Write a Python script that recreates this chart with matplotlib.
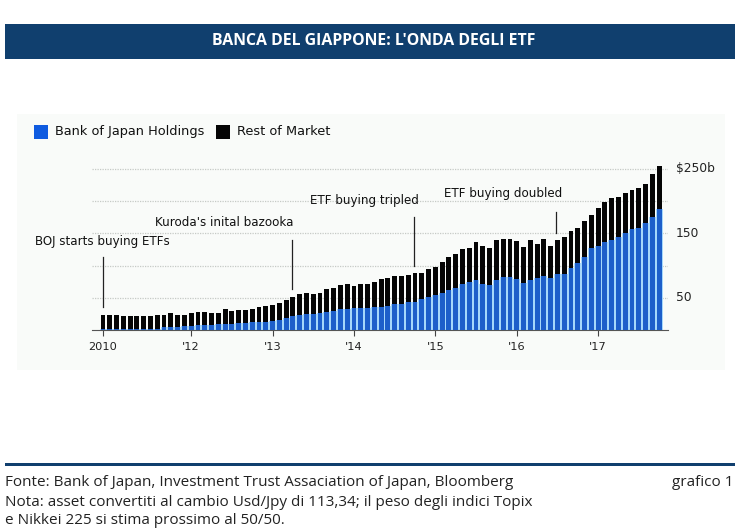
import matplotlib
matplotlib.use("Agg")
import matplotlib.pyplot as plt
from matplotlib.patches import Rectangle

W, H = 750, 529

total = [23,23,24,22,22,22,22,22,23,23,26,24,24,26,28,28,27,27,33,30,31,31,33,35,38,39,42,46,
         52,56,58,56,58,64,65,70,71,69,71,71,74,79,81,84,84,86,88,89,94,98,106,114,118,126,127,136,
         130,127,139,141,142,138,129,139,134,141,131,139,144,153,159,170,179,189,198,205,207,213,218,220,227,242,254]
boj = [1,1,1,1,1,1,1,1,1,4,5,5,6,6,8,8,8,9,10,10,11,11,12,12,13,14,16,19,
       22,23,25,25,26,28,30,32,33,34,34,34,35,36,38,40,40,43,44,48,51,54,58,62,66,71,75,77,
       72,70,78,82,83,79,73,78,80,84,81,87,87,96,104,114,128,130,136,140,144,150,157,159,166,175,188]
rest = [t - b for t, b in zip(total, boj)]
positions = list(range(len(total)))

tick_idx = [0, 13, 25, 37, 49, 61, 73]
tick_labels = ["2010", "'12", "'13", "'14", "'15", "'16", "'17"]
y_grid = [0, 50, 100, 150, 200, 250]
y_labels = {50: "50", 150: "150", 250: "$250b"}

events = [
    ("BOJ starts buying ETFs", 0.0, 36, 113, 35, 241),
    ("Kuroda's inital bazooka", 27.9, 64, 140, 155, 223),
    ("ETF buying tripled", 45.9, 99, 175, 310, 200),
    ("ETF buying doubled", 66.8, 151, 183, 444, 194),
]
series_names = ["Bank of Japan Holdings", "Rest of Market"]

NAVY = "#103f6e"
BLUE = "#1d5fca"
plt.rcParams["text.parse_math"] = False
fig = plt.figure(figsize=(W / 100, H / 100), dpi=100, facecolor="white")


def fx(x):
    return x / W


def fy(y):
    return 1 - y / H


def frect(x0, y0, x1, y1, z=1, **kw):
    fig.add_artist(Rectangle((fx(x0), fy(y1)), (x1 - x0) / W, (y1 - y0) / H,
                             transform=fig.transFigure, zorder=z, **kw))


frect(5, 24, 735, 59, facecolor=NAVY, edgecolor="none")
frect(17, 114, 725, 370, facecolor="#f9fbf9", edgecolor="none")
frect(5, 463, 735, 465.5, facecolor=NAVY, edgecolor="none")

fig.text(fx(373.5), fy(41), "BANCA DEL GIAPPONE: L'ONDA DEGLI ETF", color="white",
         family="Open Sans", weight="bold", fontsize=11.45, ha="center", va="center", zorder=3)

ax = fig.add_axes([fx(92), fy(330), (668 - 92) / W, (330 - 160) / H], zorder=2)
ax.patch.set_alpha(0)
ax.set_xlim(-1.62, 83.3)
ax.set_ylim(0, 264)
for s in ax.spines.values():
    s.set_visible(False)
ax.spines["bottom"].set_visible(True)
ax.spines["bottom"].set_color("#555555")
ax.spines["bottom"].set_linewidth(0.8)

for g in y_grid[1:]:
    ax.axhline(g, color="#c6cac6", lw=0.9, ls=(0, (1, 1)), zorder=1)

ax.bar(positions, boj, width=1.0, color="#a5d8fb", zorder=2)
ax.bar(positions, boj, width=0.72, color=BLUE, zorder=3)
ax.bar(positions, rest, bottom=boj, width=0.72, color="#050505", zorder=3)

for _, x, y0, y1, _, _ in events:
    ax.plot([x, x], [y0, y1], color="#222222", lw=0.9, zorder=4)

ax.set_xticks(tick_idx)
ax.set_xticklabels(tick_labels, fontsize=8.2, color="#222222")
ax.tick_params(axis="x", length=4, width=0.8, color="#444444", pad=4.5)
ax.set_yticks([])

for v, lab in y_labels.items():
    fig.text(fx(676), fy(330 - v * 0.644), lab, fontsize=8.8, color="#222222", va="center", ha="left", zorder=3)

for name, _, _, _, px, py in events:
    fig.text(fx(px), fy(py), name, fontsize=8.6, color="#111111", va="center", ha="left", zorder=3)

frect(34, 125, 48, 138.5, z=3, facecolor="#0f5be0", edgecolor="none")
fig.text(fx(55), fy(132), series_names[0], fontsize=9.3, color="#111111", va="center", zorder=3)
frect(216, 125, 230, 138.5, z=3, facecolor="#050505", edgecolor="none")
fig.text(fx(237), fy(132), series_names[1], fontsize=9.3, color="#111111", va="center", zorder=3)

foot = dict(family="Open Sans", fontsize=11, color="#222222", va="center", zorder=3)
fig.text(fx(5), fy(482.5), "Fonte: Bank of Japan, Investment Trust Assaciation of Japan, Bloomberg", **foot)
fig.text(fx(5), fy(502), "Nota: asset convertiti al cambio Usd/Jpy di 113,34; il peso degli indici Topix", **foot)
fig.text(fx(5), fy(521), "e Nikkei 225 si stima prossimo al 50/50.", **foot)
fig.text(fx(734), fy(482.5), "grafico 1", ha="right", **foot)

fig.savefig("out.png", dpi=100)
